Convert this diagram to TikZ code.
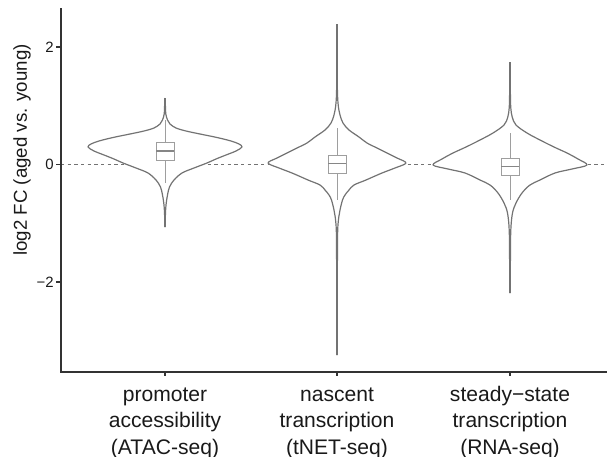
\documentclass[tikz,border=0pt]{standalone}
\usepackage{fontspec}
\setmainfont{Liberation Sans}
\usepackage{tikz}
\usetikzlibrary{calc,positioning}
\definecolor{violinline}{gray}{0.45}
\definecolor{boxline}{gray}{0.62}
\definecolor{axisline}{gray}{0.2}
\definecolor{labeltext}{gray}{0.1}
\tikzstyle{violin}    = [draw=violinline, line width=0.9pt, line join=round]
\tikzstyle{qbox}      = [draw=boxline, fill=white, line width=0.75pt]
\tikzstyle{whisker}   = [draw=boxline, line width=0.75pt]
\tikzstyle{zeroline}  = [draw=violinline, line width=0.8pt, dash pattern=on 2.5pt off 2.5pt]
\tikzstyle{axis}      = [draw=axisline, line width=0.9pt]
\tikzstyle{ticklabel} = [text=labeltext, font=\fontsize{11.2}{13}\selectfont, anchor=east, inner sep=0pt]
\tikzstyle{catlabel}  = [text=labeltext, align=center, anchor=north, inner sep=0pt,
                         font=\fontsize{15.8}{19.9}\selectfont]
% #1 = centre, #2 = half profile as (half width, y) from top to bottom
\newcommand{\violinshape}[2]{%
  \foreach \s in {1,-1}
    \fill[white, shift={(#1,0)}, xscale=\s] plot[smooth, tension=.55] coordinates {#2} -- cycle;
  \foreach \s in {1,-1}
    \draw[violin, shift={(#1,0)}, xscale=\s] plot[smooth, tension=.55] coordinates {#2};
}

\begin{document}
\begin{tikzpicture}[x=0.75pt, y=-0.75pt]
    \useasboundingbox (0,0) rectangle (607,457);
    % zero line behind the violins
    \coordinate (Z0) at (61,164.5);
    \coordinate (Z1) at (607,164.5);
    \draw[zeroline] (Z0) -- (Z1);

    % violins
    \violinshape{165}{(0.3,98) (0.4,106) (0.8,114) (2.5,120) (5,124) (11,128) (21,131) (35,134)
        (52,137.5) (66,141) (74,144) (77,147) (71,151) (61,155) (51,159) (42,163) (29,168)
        (17,173) (9,180) (4.5,187) (2.5,195) (1,205) (0.4,215) (0.3,227)}
    \violinshape{337}{(0.3,24) (0.3,60) (0.4,90) (1.2,105) (3,115) (6,123) (12,130) (22,137)
        (30,143) (40,148) (50,153) (60,158) (69,163) (58,168) (45,173) (29,180) (17,185)
        (12,190) (8,195) (5.5,200) (3,210) (1.8,217) (0.7,230) (0.4,260) (0.3,300) (0.3,355)}
    \violinshape{510}{(0.3,62) (0.4,95) (0.8,108) (2.2,117) (6,125) (17,133) (30,140) (44,147)
        (57,153) (68,159) (77,165) (62,169) (45,173) (30,180) (20,185) (12,193) (6,203)
        (2.5,213) (0.8,230) (0.4,260) (0.3,293)}

    % boxes: centre / lower hinge / median / upper hinge / whisker ends
    \foreach \cx/\qa/\med/\qb/\wa/\wb in {165/142/151/160/120/183,
                                          337/155/163.5/173/128/200,
                                          510/158/166.5/175/133/200}
    {
        \draw[whisker] (\cx,\wa) -- (\cx,\wb);
        \draw[qbox] ({\cx-9},\qa) rectangle ({\cx+9},\qb);
        \draw[draw=boxline!85!black, line width=1pt] ({\cx-9},\med) -- ({\cx+9},\med);
    }

    % axes
    \coordinate (O) at (61,372);
    \coordinate (T) at (61,8);
    \coordinate (R) at (607,372);
    \draw[axis] (T) -- (O) -- (R);

    % y ticks
    \foreach \v/\lab in {2/2, 0/0, -2/−2}
    {
        \draw[axis] (56,164.5-58.75*\v) -- (61,164.5-58.75*\v);
        \node[ticklabel] (Y\v) at (54,164.5-58.75*\v) {\lab};
    }
    \node[rotate=90, text=labeltext, font=\fontsize{14}{16}\selectfont] (ylab) at (22,150)
        {log2 FC (aged vs. young)};

    % x ticks and category labels
    \foreach \cx/\n/\lab in {165/1/{promoter\\accessibility\\(ATAC-seq)},
                             337/2/{nascent\\transcription\\(tNET-seq)},
                             510/3/{steady−state\\transcription\\(RNA-seq)}}
    {
        \draw[axis] (\cx,372) -- (\cx,376);
        \node[catlabel] (C\n) at (\cx,382.5) {\strut\lab};
    }
\end{tikzpicture}
\end{document}
